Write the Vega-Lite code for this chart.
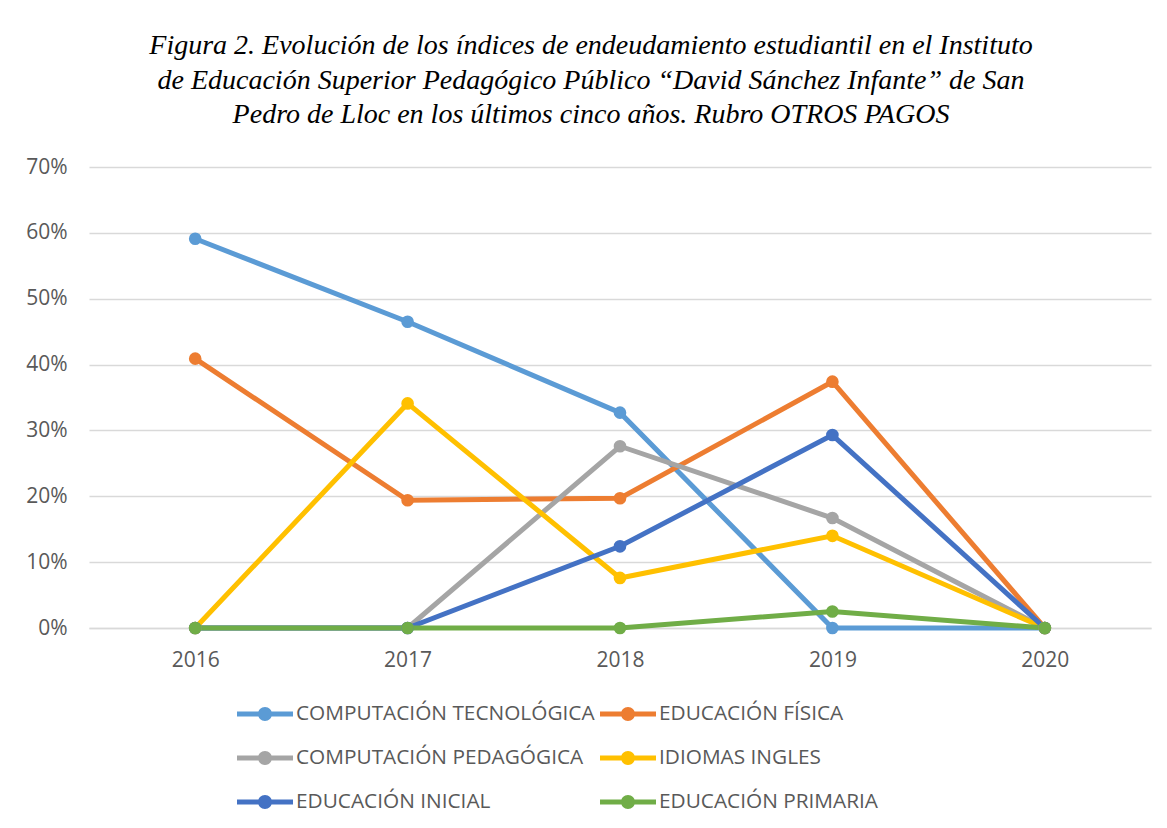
{
  "$schema": "https://vega.github.io/schema/vega-lite/v6.json",
  "width": 1062,
  "height": 461,
  "autosize": {"type": "none"},
  "padding": {"left": 89, "top": 167, "right": 16, "bottom": 200},
  "background": "white",
  "title": {
    "text": [
      "Figura 2. Evolución de los índices de endeudamiento estudiantil en el Instituto",
      "de Educación Superior Pedagógico Público “David Sánchez Infante” de San",
      "Pedro de Lloc en los últimos cinco años. Rubro OTROS PAGOS"
    ],
    "font": "Liberation Serif",
    "fontStyle": "italic",
    "fontWeight": "normal",
    "fontSize": 28,
    "lineHeight": 34.5,
    "color": "#000000",
    "anchor": "middle",
    "frame": "group",
    "dx": -29,
    "offset": 27
  },
  "data": {
    "values": [
      {"year": "2016", "serie": "COMPUTACIÓN TECNOLÓGICA", "v": 0.591},
      {"year": "2017", "serie": "COMPUTACIÓN TECNOLÓGICA", "v": 0.465},
      {"year": "2018", "serie": "COMPUTACIÓN TECNOLÓGICA", "v": 0.327},
      {"year": "2019", "serie": "COMPUTACIÓN TECNOLÓGICA", "v": 0.0},
      {"year": "2020", "serie": "COMPUTACIÓN TECNOLÓGICA", "v": 0.0},
      {"year": "2016", "serie": "EDUCACIÓN FÍSICA", "v": 0.409},
      {"year": "2017", "serie": "EDUCACIÓN FÍSICA", "v": 0.194},
      {"year": "2018", "serie": "EDUCACIÓN FÍSICA", "v": 0.197},
      {"year": "2019", "serie": "EDUCACIÓN FÍSICA", "v": 0.374},
      {"year": "2020", "serie": "EDUCACIÓN FÍSICA", "v": 0.0},
      {"year": "2016", "serie": "COMPUTACIÓN PEDAGÓGICA", "v": 0.0},
      {"year": "2017", "serie": "COMPUTACIÓN PEDAGÓGICA", "v": 0.0},
      {"year": "2018", "serie": "COMPUTACIÓN PEDAGÓGICA", "v": 0.276},
      {"year": "2019", "serie": "COMPUTACIÓN PEDAGÓGICA", "v": 0.167},
      {"year": "2020", "serie": "COMPUTACIÓN PEDAGÓGICA", "v": 0.0},
      {"year": "2016", "serie": "IDIOMAS INGLES", "v": 0.0},
      {"year": "2017", "serie": "IDIOMAS INGLES", "v": 0.341},
      {"year": "2018", "serie": "IDIOMAS INGLES", "v": 0.076},
      {"year": "2019", "serie": "IDIOMAS INGLES", "v": 0.140},
      {"year": "2020", "serie": "IDIOMAS INGLES", "v": 0.0},
      {"year": "2016", "serie": "EDUCACIÓN INICIAL", "v": 0.0},
      {"year": "2017", "serie": "EDUCACIÓN INICIAL", "v": 0.0},
      {"year": "2018", "serie": "EDUCACIÓN INICIAL", "v": 0.124},
      {"year": "2019", "serie": "EDUCACIÓN INICIAL", "v": 0.293},
      {"year": "2020", "serie": "EDUCACIÓN INICIAL", "v": 0.0},
      {"year": "2016", "serie": "EDUCACIÓN PRIMARIA", "v": 0.0},
      {"year": "2017", "serie": "EDUCACIÓN PRIMARIA", "v": 0.0},
      {"year": "2018", "serie": "EDUCACIÓN PRIMARIA", "v": 0.0},
      {"year": "2019", "serie": "EDUCACIÓN PRIMARIA", "v": 0.025},
      {"year": "2020", "serie": "EDUCACIÓN PRIMARIA", "v": 0.0}
    ]
  },
  "mark": {"type": "line", "strokeWidth": 5, "point": {"filled": true, "size": 160, "opacity": 1}},
  "encoding": {
    "x": {
      "field": "year",
      "type": "ordinal",
      "axis": {
        "title": null,
        "labelAngle": 0,
        "labelFont": "Open Sans",
        "labelFontSize": 21,
        "labelColor": "#595959",
        "labelPadding": 21,
        "ticks": false,
        "domain": true,
        "domainColor": "#D9D9D9",
        "domainWidth": 1.5,
        "grid": false
      }
    },
    "y": {
      "field": "v",
      "type": "quantitative",
      "scale": {"domain": [0, 0.7], "nice": false},
      "axis": {
        "title": null,
        "values": [0, 0.1, 0.2, 0.3, 0.4, 0.5, 0.6, 0.7],
        "format": ".0%",
        "labelFont": "Open Sans",
        "labelFontSize": 21,
        "labelColor": "#595959",
        "labelPadding": 22,
        "ticks": false,
        "domain": false,
        "grid": true,
        "gridColor": "#D9D9D9",
        "gridWidth": 1.5
      }
    },
    "color": {
      "field": "serie",
      "type": "nominal",
      "sort": ["COMPUTACIÓN TECNOLÓGICA", "EDUCACIÓN FÍSICA", "COMPUTACIÓN PEDAGÓGICA", "IDIOMAS INGLES", "EDUCACIÓN INICIAL", "EDUCACIÓN PRIMARIA"],
      "scale": {
        "domain": ["COMPUTACIÓN TECNOLÓGICA", "EDUCACIÓN FÍSICA", "COMPUTACIÓN PEDAGÓGICA", "IDIOMAS INGLES", "EDUCACIÓN INICIAL", "EDUCACIÓN PRIMARIA"],
        "range": ["#5B9BD5", "#ED7D31", "#A5A5A5", "#FFC000", "#4472C4", "#70AD47"]
      },
      "legend": {
        "title": null,
        "orient": "none",
        "direction": "horizontal",
        "legendX": 148,
        "legendY": 519,
        "columns": 2,
        "columnPadding": 5,
        "rowPadding": 6,
        "symbolType": "M-1,-0.09H1V0.09H-1Z M0.25,0A0.25,0.25,0,1,1,-0.25,0A0.25,0.25,0,1,1,0.25,0Z",
        "symbolSize": 3136,
        "symbolStrokeWidth": 0,
        "labelFont": "Open Sans",
        "labelFontSize": 20.8,
        "labelColor": "#595959",
        "labelOffset": 3,
        "labelLimit": 400,
        "encode": {
          "symbols": {"update": {"fill": {"scale": "color", "field": "value"}, "strokeWidth": {"value": 0}, "opacity": {"value": 1}}}
        }
      }
    }
  },
  "config": {"view": {"stroke": null}}
}
